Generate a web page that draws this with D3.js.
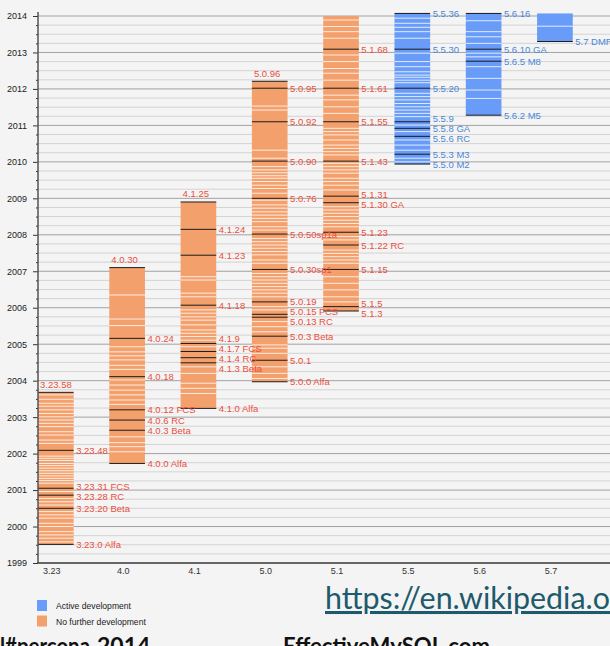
<!DOCTYPE html>
<html>
<head>
<meta charset="utf-8">
<script src="https://cdn.jsdelivr.net/npm/d3@7/dist/d3.min.js"></script>
<style>
  html, body { margin: 0; padding: 0; background: #f4f4f4; overflow: hidden; }
  svg { display: block; }
</style>
</head>
<body>
<div class="canva"></div>
<script>
// versions on the x axis
const versions = ['3.23', '4.0', '4.1', '5.0', '5.1', '5.5', '5.6', '5.7'];
const active = ['5.5', '5.6', '5.7'];
// for these the last release is written above the bar
const endOfLife = ['3.23', '4.0', '4.1', '5.0'];
// where each bar stops at the top (decimal year)
const lastDate = [2003.68, 2007.10, 2008.90, 2012.21, 2014.00, 2014.07, 2014.07, 2014.07];
const yearTicks = d3.range(1999, 2015);

// named releases: [label, decimal year]
const named_323 = [['3.23.58', 2003.68], ['3.23.48', 2002.09], ['3.23.31 FCS', 2001.05], ['3.23.28 RC', 2000.86],
  ['3.23.20 Beta', 2000.50], ['3.23.0 Alfa', 1999.51]];
const named_40 = [['4.0.30', 2007.10], ['4.0.24', 2005.16], ['4.0.18', 2004.11], ['4.0.12 FCS', 2003.20],
  ['4.0.6 RC', 2002.92], ['4.0.3 Beta', 2002.64], ['4.0.0 Alfa', 2001.73]];
const named_41 = [['4.1.25', 2008.90], ['4.1.24', 2008.15], ['4.1.23', 2007.44], ['4.1.18', 2006.07],
  ['4.1.9', 2005.02], ['4.1.7 FCS', 2004.80], ['4.1.4 RC', 2004.63], ['4.1.3 Beta', 2004.49], ['4.1.0 Alfa', 2003.24]];
const named_50 = [['5.0.96', 2012.21], ['5.0.95', 2012.02], ['5.0.92', 2011.10], ['5.0.90', 2010.02],
  ['5.0.76', 2009.00], ['5.0.50sp1a', 2008.02], ['5.0.30sp1', 2007.05], ['5.0.19', 2006.16],
  ['5.0.15 FCS', 2005.82], ['5.0.13 RC', 2005.74], ['5.0.3 Beta', 2005.22], ['5.0.1', 2004.56], ['5.0.0 Alfa', 2003.97]];
const named_51 = [['5.1.68', 2013.09], ['5.1.61', 2012.02], ['5.1.55', 2011.10], ['5.1.43', 2010.02],
  ['5.1.31', 2009.06], ['5.1.30 GA', 2008.88], ['5.1.23', 2008.07], ['5.1.22 RC', 2007.72],
  ['5.1.15', 2007.05], ['5.1.5', 2006.03], ['5.1.3', 2005.91]];
const named_55 = [['5.5.36', 2014.07], ['5.5.30', 2013.09], ['5.5.20', 2012.02], ['5.5.9', 2011.10],
  ['5.5.8 GA', 2010.92], ['5.5.6 RC', 2010.70], ['5.5.3 M3', 2010.21], ['5.5.0 M2', 2009.94]];
const named_56 = [['5.6.16', 2014.07], ['5.6.10 GA', 2013.09], ['5.6.5 M8', 2012.76], ['5.6.2 M5', 2011.28]];
const named_57 = [['5.7 DMR1', 2013.30]];

// other (unnamed) releases, drawn as white lines
const minor_323 = [2003.61, 2003.49, 2003.38, 2003.30, 2003.20, 2003.10, 2003.01, 2002.92, 2002.83, 2002.74,
  2002.60, 2002.51, 2002.37, 2002.28, 2001.93, 2001.87, 2001.81, 2001.73, 2001.67, 2001.60, 2001.53,
  2001.46, 2001.39, 2001.32, 2001.26, 2001.19, 2000.96, 2000.77, 2000.68, 2000.59, 2000.41, 2000.32,
  2000.23, 2000.09, 2000.00, 1999.86, 1999.77, 1999.68, 1999.58];
const minor_40 = [2006.35, 2005.69, 2005.51, 2004.93, 2004.79, 2004.68, 2004.57, 2004.42, 2004.31, 2004.02,
  2003.88, 2003.74, 2003.61, 2003.47, 2003.35, 2002.46, 2002.30, 2002.19, 2002.05];
const minor_41 = [2006.85, 2006.76, 2006.40, 2006.30, 2005.94, 2005.85, 2005.75, 2005.66, 2005.53, 2005.39,
  2005.30, 2005.21, 2005.11, 2004.93, 2004.38, 2004.20, 2003.93, 2003.79, 2003.65];
const minor_50 = [2011.53, 2011.42, 2010.32, 2010.10, 2009.87, 2009.78, 2009.70, 2009.62, 2009.55, 2009.46,
  2009.36, 2009.27, 2009.14, 2008.95, 2008.82, 2008.73, 2008.63, 2008.54, 2008.45, 2008.36, 2008.22,
  2008.13, 2007.90, 2007.81, 2007.72, 2007.63, 2007.54, 2007.45, 2007.31, 2007.22, 2006.94, 2006.85,
  2006.76, 2006.67, 2006.58, 2006.49, 2006.40, 2006.30, 2006.03, 2005.94, 2005.62, 2005.48, 2005.34,
  2004.98, 2004.89, 2004.75, 2004.38, 2004.20, 2004.06];
const minor_51 = [2013.89, 2013.71, 2013.57, 2013.39, 2012.93, 2012.75, 2012.56, 2012.43, 2012.24, 2011.83,
  2011.70, 2011.51, 2011.33, 2010.92, 2010.83, 2010.74, 2010.60, 2010.46, 2010.37, 2010.28, 2010.19,
  2009.96, 2009.87, 2009.78, 2009.69, 2009.55, 2009.46, 2009.36, 2009.23, 2008.77, 2008.68, 2008.59,
  2008.50, 2008.40, 2008.31, 2008.22, 2007.95, 2007.86, 2007.58, 2007.49, 2007.40, 2007.31, 2007.22,
  2006.85, 2006.67, 2006.49, 2006.30, 2006.16];
const minor_55 = [2013.94, 2013.80, 2013.69, 2013.57, 2013.39, 2012.98, 2012.75, 2012.61, 2012.47, 2012.38,
  2012.32, 2012.24, 2012.17, 2011.88, 2011.79, 2011.70, 2011.60, 2011.51, 2011.42, 2011.33, 2011.24,
  2011.01, 2010.83, 2010.60, 2010.46, 2010.32, 2010.10, 2010.00];
const minor_56 = [2013.87, 2013.57, 2013.43, 2013.25, 2012.98, 2012.88, 2012.61, 2012.29, 2011.97, 2011.74];
const minor_57 = [2013.72];

const namedList = [named_323, named_40, named_41, named_50, named_51, named_55, named_56, named_57];
const minorList = [minor_323, minor_40, minor_41, minor_50, minor_51, minor_55, minor_56, minor_57];

const legendLabels = ['Active development', 'No further development'];

const orange = '#f4a06c', blue = '#689cf8';
const orangeText = '#ea4f3e', blueText = '#4a88d6';
const font = '"Liberation Sans", Arial, sans-serif';

const width = 610, height = 646;
const margin = { left: 38, top: 16, bottom: 563 };

const svg = d3.select('.canva').append('svg')
  .attr('width', width)
  .attr('height', height);

svg.append('rect').attr('width', width).attr('height', height).attr('fill', '#f4f4f4');

const y = d3.scaleLinear().domain([1999, 2014]).range([margin.bottom, margin.top]);
const x = d3.scaleBand().domain(versions)
  .range([margin.left, 572.75])
  .paddingInner(0.5)
  .paddingOuter(0);
const bw = x.bandwidth();

//grid
const quarters = d3.range(1999, 2014.01, 0.25).filter(d => d % 1 !== 0);
svg.append('g').selectAll('line').data(quarters).enter().append('line')
  .attr('x1', margin.left).attr('x2', width)
  .attr('y1', d => y(d)).attr('y2', d => y(d))
  .attr('stroke', '#d3d3d3').attr('stroke-width', 1);
svg.append('g').selectAll('line').data(yearTicks).enter().append('line')
  .attr('x1', margin.left).attr('x2', width)
  .attr('y1', d => y(d)).attr('y2', d => y(d))
  .attr('stroke', '#a2a2a2').attr('stroke-width', 1);

//bars
const bars = versions.map((v, i) => ({
  v,
  end: lastDate[i],
  start: d3.min(namedList[i], d => d[1]),
  isActive: active.includes(v),
  named: namedList[i],
  minor: minorList[i]
}));

const graph = svg.append('g');
graph.selectAll('rect').data(bars).enter().append('rect')
  .attr('x', d => x(d.v))
  .attr('y', d => y(d.end))
  .attr('width', bw)
  .attr('height', d => y(d.start) - y(d.end))
  .attr('fill', d => d.isActive ? blue : orange);

// white lines for every release, dark ones for the named releases
bars.forEach(b => {
  graph.append('g').selectAll('line').data(b.minor).enter().append('line')
    .attr('x1', x(b.v)).attr('x2', x(b.v) + bw)
    .attr('y1', d => y(d)).attr('y2', d => y(d))
    .attr('stroke', '#ffffff').attr('stroke-opacity', 0.8).attr('stroke-width', 1);
  graph.append('g').selectAll('line').data(b.named).enter().append('line')
    .attr('x1', x(b.v)).attr('x2', x(b.v) + bw)
    .attr('y1', d => y(d[1])).attr('y2', d => y(d[1]))
    .attr('stroke', '#1c1c1c').attr('stroke-width', 1);
});

// spread labels that would overlap
function relax(items, gap) {
  items.sort((a, b) => a.y - b.y);
  for (let k = 0; k < 200; k++) {
    let moved = false;
    for (let i = 1; i < items.length; i++) {
      const d = items[i].y - items[i - 1].y;
      if (d < gap - 0.01) {
        const s = (gap - d) / 2;
        items[i - 1].y -= s;
        items[i].y += s;
        moved = true;
      }
    }
    if (!moved) break;
  }
  return items;
}

bars.forEach(b => {
  const col = b.isActive ? blueText : orangeText;
  let side = b.named.map(d => ({ name: d[0], y: y(d[1]), year: d[1] }));
  if (endOfLife.includes(b.v)) {
    const last = side.reduce((a, c) => (c.year > a.year ? c : a));
    side = side.filter(d => d !== last);
    graph.append('text')
      .attr('x', x(b.v) + 2)
      .attr('y', last.y - 8)
      .attr('dominant-baseline', 'central')
      .attr('fill', col)
      .style('font-family', font).style('font-size', '9.5px')
      .text(last.name);
  }
  relax(side, 10);
  graph.append('g').selectAll('text').data(side).enter().append('text')
    .attr('x', x(b.v) + bw + 2.5)
    .attr('y', d => d.y)
    .attr('dominant-baseline', 'central')
    .attr('fill', col)
    .style('font-family', font).style('font-size', '9.5px')
    .text(d => d.name);
});

//axes
const yAxis = d3.axisLeft(y).tickValues(yearTicks).tickFormat(d3.format('d')).tickSize(5).tickPadding(6);
const yMinor = d3.axisLeft(y).tickValues(quarters).tickFormat('').tickSize(2);
const yAxisGroup = svg.append('g').attr('transform', `translate(${margin.left},0)`).call(yAxis);
const yMinorGroup = svg.append('g').attr('transform', `translate(${margin.left},0)`).call(yMinor);
[yAxisGroup, yMinorGroup].forEach(g => {
  g.select('.domain').remove();
  g.selectAll('line').attr('stroke', '#333');
});
yAxisGroup.selectAll('text').style('font-family', font).style('font-size', '9px').attr('fill', '#222');

const xAxis = d3.axisBottom(x).tickSize(0).tickPadding(5);
const xAxisGroup = svg.append('g').attr('transform', `translate(-4, ${margin.bottom})`).call(xAxis);
xAxisGroup.select('.domain').remove();
xAxisGroup.selectAll('text').style('font-family', font).style('font-size', '9px').attr('fill', '#333');

svg.append('line').attr('x1', margin.left).attr('x2', margin.left).attr('y1', 12).attr('y2', margin.bottom)
  .attr('stroke', '#555').attr('stroke-width', 1.5);
svg.append('line').attr('x1', margin.left - 1).attr('x2', width).attr('y1', margin.bottom).attr('y2', margin.bottom)
  .attr('stroke', '#444').attr('stroke-width', 1.5);

//legend
const legend = svg.append('g').attr('transform', 'translate(37, 600)');
legend.selectAll('rect').data(legendLabels).enter().append('rect')
  .attr('x', 0).attr('y', (d, i) => i * 15.5)
  .attr('width', 10).attr('height', 11)
  .attr('fill', (d, i) => i === 0 ? blue : orange);
legend.selectAll('text').data(legendLabels).enter().append('text')
  .attr('x', 19).attr('y', (d, i) => i * 15.5 + 6)
  .attr('dominant-baseline', 'central')
  .style('font-family', font).style('font-size', '8.6px').attr('fill', '#222')
  .text(d => d);

// slide text around the chart (it runs off the edge, as on the slide)
const url = svg.append('text')
  .attr('x', 325).attr('y', 609)
  .style('font-family', 'Lato, "Open Sans", sans-serif').style('font-size', '27px')
  .style('text-decoration', 'underline')
  .attr('fill', '#1d5a6b')
  .text('https://en.wikipedia.org/wiki/MySQL');
// size it so that "https://en.wikipedia.o" reaches the right edge
const urlPart = url.node().getSubStringLength(0, 22);
url.style('font-size', (27 * 285 / urlPart).toFixed(2) + 'px');

const slideFoot = svg.append('g')
  .style('font-family', 'Lato, sans-serif').style('font-size', '23px').style('font-weight', 'bold')
  .attr('fill', '#111');
slideFoot.append('text').attr('x', 0).attr('y', 654).attr('textLength', 90)
  .attr('lengthAdjust', 'spacingAndGlyphs').text('l#percona');
slideFoot.append('text').attr('x', 97).attr('y', 654).text('2014');
slideFoot.append('text').attr('x', 283).attr('y', 654).attr('textLength', 207)
  .attr('lengthAdjust', 'spacingAndGlyphs').text('EffectiveMySQL.com');
</script>
</body>
</html>
